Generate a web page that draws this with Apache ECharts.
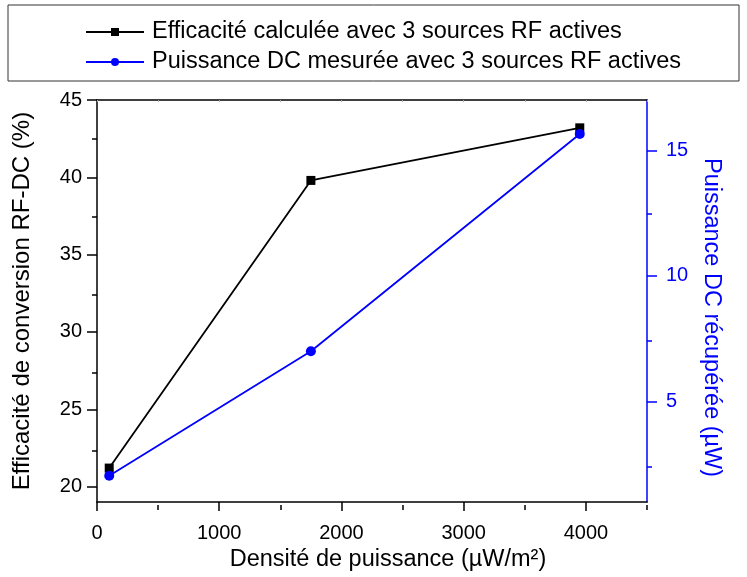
<!DOCTYPE html>
<html>
<head>
<meta charset="utf-8">
<script src="https://cdn.jsdelivr.net/npm/echarts@6/dist/echarts.min.js"></script>
<style>
  html, body { margin: 0; padding: 0; background: #fff; }
  #main { width: 747px; height: 577px; }
</style>
</head>
<body>
<div id="main"></div>
<script>
// données
var densite = [100, 1750, 3950];
var efficacite = [21.2, 39.8, 43.2];
var puissanceDC = [2.05, 7.0, 15.65];

var xMajor = [0, 1000, 2000, 3000, 4000];
var xMinor = [500, 1500, 2500, 3500, 4500];
var yLeftMajor = [20, 25, 30, 35, 40, 45];
var yLeftMinor = [22.5, 27.5, 32.5, 37.5, 42.5];
var yRightMajor = [5, 10, 15];
var yRightMinor = [2.5, 7.5, 12.5];

var legendNames = ['Efficacité calculée avec 3 sources RF actives', 'Puissance DC mesurée avec 3 sources RF actives'];

var FONT = 'Liberation Sans, Arial, sans-serif';
var chart = echarts.init(document.getElementById('main'));

function pairs(xs, ys) {
  var out = [];
  for (var i = 0; i < xs.length; i++) out.push([xs[i], ys[i]]);
  return out;
}
function plain(v) { return String(v); }

var gridBox = { left: 97, right: 100, top: 100, bottom: 72 };

// axe "ticks seulement" (pas de ligne, pas d'étiquette)
function tickAxis(grid, pos, min, max, values, len, color) {
  return {
    gridIndex: grid, type: 'value', min: min, max: max, position: pos,
    axisLine: { show: false, onZero: false },
    axisTick: { show: true, customValues: values, length: len, lineStyle: { color: color, width: 1.5 } },
    axisLabel: { show: false },
    splitLine: { show: false }
  };
}

var option = {
  animation: false,
  backgroundColor: '#fff',
  textStyle: { fontFamily: FONT },
  graphic: [{
    type: 'rect',
    shape: { x: 8, y: 5, width: 731, height: 76 },
    style: { fill: 'none', stroke: '#333', lineWidth: 1 }
  }],
  legend: {
    orient: 'vertical',
    left: 80,
    top: 15,
    itemWidth: 58,
    itemHeight: 10,
    itemGap: 6,
    textStyle: { fontSize: 23.5, color: '#000', fontFamily: FONT, padding: [0, 0, 0, 3] },
    data: legendNames
  },
  grid: [
    Object.assign({}, gridBox),
    Object.assign({}, gridBox)
  ],
  xAxis: [{
    gridIndex: 0, type: 'value', min: 0, max: 4500, position: 'bottom',
    name: 'Densité de puissance (µW/m²)', nameLocation: 'middle', nameGap: 42,
    nameTextStyle: { fontSize: 23.5, color: '#000', fontFamily: FONT, padding: [0, 0, 0, 32] },
    axisLine: { show: true, onZero: false, lineStyle: { color: '#000', width: 1.5 } },
    axisTick: { show: true, customValues: xMajor, length: 9, lineStyle: { color: '#000', width: 1.5 } },
    axisLabel: { customValues: xMajor, formatter: plain, fontSize: 20, color: '#000', margin: 21, fontFamily: FONT },
    splitLine: { show: false }
  }, {
    gridIndex: 0, type: 'value', min: 0, max: 4500, position: 'top',
    axisLine: { show: true, onZero: false, lineStyle: { color: '#000', width: 1.5 } },
    axisTick: { show: true, inside: true, customValues: xMinor.concat(xMajor), length: 2, lineStyle: { color: '#aaa', width: 1 } },
    axisLabel: { show: false },
    splitLine: { show: false }
  },
    tickAxis(1, 'bottom', 0, 4500, xMinor, 5, '#000')
  ],
  yAxis: [{
    gridIndex: 0, type: 'value', min: 19, max: 45, position: 'left',
    name: 'Efficacité de conversion RF-DC (%)', nameLocation: 'middle', nameGap: 63,
    nameTextStyle: { fontSize: 24, color: '#000', fontFamily: FONT },
    axisLine: { show: true, onZero: false, lineStyle: { color: '#000', width: 1.5 } },
    axisTick: { show: true, customValues: yLeftMajor, length: 10, lineStyle: { color: '#000', width: 1.5 } },
    axisLabel: { customValues: yLeftMajor, formatter: plain, fontSize: 20, color: '#000', margin: 15, fontFamily: FONT },
    splitLine: { show: false }
  }, {
    gridIndex: 0, type: 'value', min: 1, max: 17, position: 'right',
    name: 'Puissance DC récupérée (µW)', nameLocation: 'middle', nameGap: 52, nameRotate: -90,
    nameTextStyle: { fontSize: 23.5, color: '#0000ff', fontFamily: FONT, padding: [0, 0, 0, 33] },
    axisLine: { show: true, onZero: false, lineStyle: { color: '#0000ff', width: 1.5 } },
    axisTick: { show: true, customValues: yRightMajor, length: 10, lineStyle: { color: '#0000ff', width: 1.5 } },
    axisLabel: { customValues: yRightMajor, formatter: plain, fontSize: 20, color: '#0000ff', margin: 19, fontFamily: FONT },
    splitLine: { show: false }
  },
    tickAxis(1, 'left', 19, 45, yLeftMinor, 5, '#000'),
    tickAxis(1, 'right', 1, 17, yRightMinor, 5, '#0000ff')
  ],
  series: [{
    name: legendNames[0],
    type: 'line',
    xAxisIndex: 0,
    yAxisIndex: 0,
    data: pairs(densite, efficacite),
    symbol: 'rect',
    symbolSize: 9,
    lineStyle: { color: '#000', width: 1.8 },
    itemStyle: { color: '#000' }
  }, {
    name: legendNames[1],
    type: 'line',
    xAxisIndex: 0,
    yAxisIndex: 1,
    data: pairs(densite, puissanceDC),
    symbol: 'circle',
    symbolSize: 10,
    lineStyle: { color: '#0000ff', width: 1.8 },
    itemStyle: { color: '#0000ff' }
  }]
};

chart.setOption(option);
</script>
</body>
</html>
